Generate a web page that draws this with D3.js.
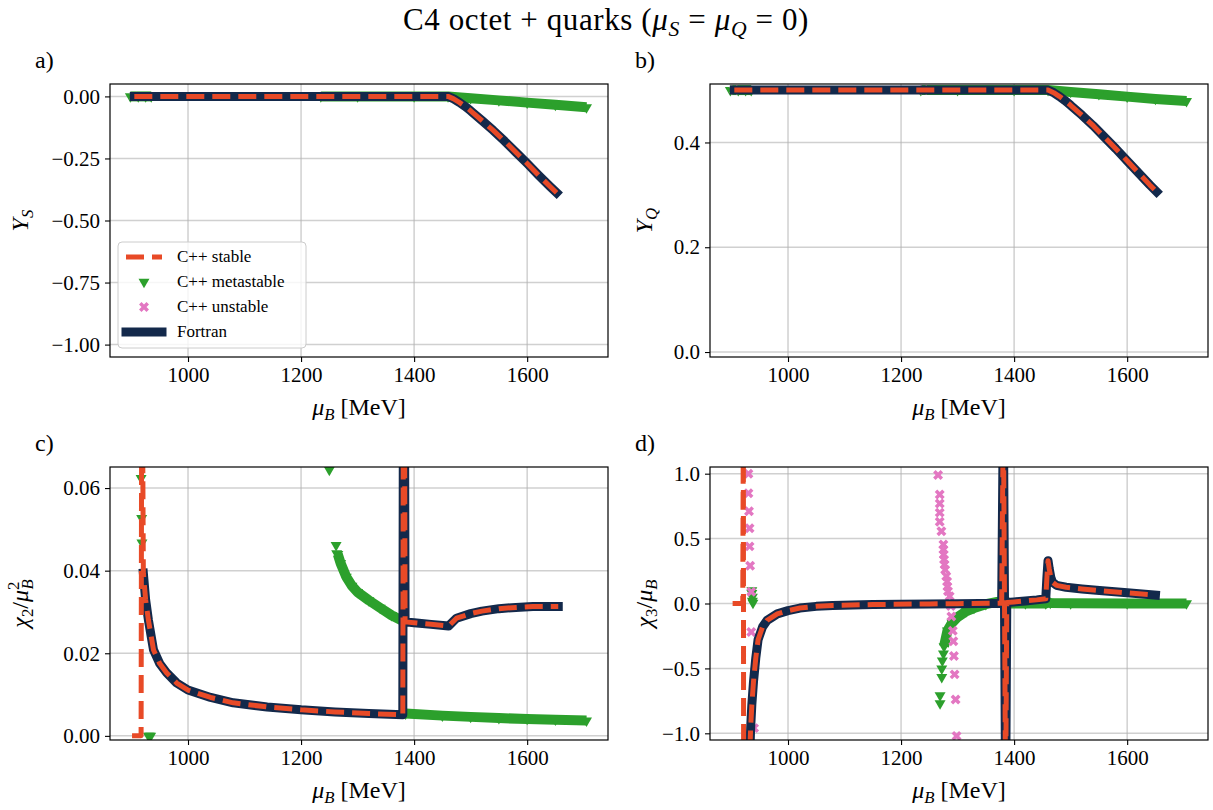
<!DOCTYPE html>
<html lang="en">
<head>
<meta charset="UTF-8"/>
<title>C4 octet + quarks</title>
<script src="https://d3js.org/d3.v7.min.js"></script>
<style>
body { margin: 0; background: #fff; }
</style>
</head>
<body>
<script>
// ---------------- data ----------------
var xTicks = [1000, 1200, 1400, 1600];

// a) Y_S
var muA = [905, 1000, 1100, 1200, 1300, 1400, 1460, 1470, 1480, 1490, 1500, 1520, 1540, 1560, 1580, 1600, 1620, 1640, 1652];
var stableA = [0, 0, 0, 0, 0, 0, 0, -0.01, -0.024, -0.04, -0.058, -0.097, -0.137, -0.18, -0.225, -0.27, -0.317, -0.362, -0.388];
var metaA1_mu = [898, 912, 925, 935];
var metaA1 = [0, 0, 0, 0];
var metaA2_mu = [1235, 1300, 1400, 1460, 1500, 1550, 1600, 1650, 1705];
var metaA2 = [0, 0, 0, 0, -0.007, -0.016, -0.025, -0.034, -0.044];
var unstA_mu = [905, 1240];
var unstA = [0, 0];

// b) Y_Q
var muB = muA;
var stableB = [0.5, 0.5, 0.5, 0.5, 0.5, 0.5, 0.5, 0.495, 0.488, 0.48, 0.471, 0.452, 0.432, 0.41, 0.388, 0.365, 0.342, 0.319, 0.306];
var metaB1_mu = [898, 912, 925, 935];
var metaB1 = [0.5, 0.5, 0.5, 0.5];
var metaB2_mu = [1235, 1300, 1400, 1460, 1500, 1550, 1600, 1650, 1705];
var metaB2 = [0.5, 0.5, 0.5, 0.5, 0.4965, 0.492, 0.4875, 0.483, 0.479];
var unstB_mu = [905, 1240];
var unstB = [0.5, 0.5];

// c) chi2 / mu_B^2
var stableC_mu = [901, 917, 918, 919.5, 921, 925, 930, 939, 950, 962, 980, 1000, 1040, 1080, 1140, 1200, 1260, 1320, 1380, 1381, 1383, 1384, 1400, 1430, 1461, 1475, 1500, 1520, 1550, 1580, 1610, 1655];
var stableC = [0, 0, 0.08, 0.08, 0.0394, 0.033, 0.028, 0.0208, 0.0175, 0.0153, 0.0128, 0.0111, 0.0093, 0.008, 0.007, 0.0063, 0.0058, 0.0054, 0.0051, 0.08, 0.08, 0.0276, 0.0274, 0.027, 0.0266, 0.0285, 0.0296, 0.0302, 0.0308, 0.0311, 0.0313, 0.0313];
var fortranC_mu = [921, 925, 930, 939, 950, 962, 980, 1000, 1040, 1080, 1140, 1200, 1260, 1320, 1380, 1381, 1383, 1384, 1400, 1430, 1461, 1475, 1500, 1520, 1550, 1580, 1610, 1655];
var fortranC = [0.0394, 0.033, 0.028, 0.0208, 0.0175, 0.0153, 0.0128, 0.0111, 0.0093, 0.008, 0.007, 0.0063, 0.0058, 0.0054, 0.0051, 0.08, 0.08, 0.0276, 0.0274, 0.027, 0.0266, 0.0285, 0.0296, 0.0302, 0.0308, 0.0311, 0.0313, 0.0313];
var metaC_mu = [917, 918, 918.5, 930, 932, 934, 1250, 1262, 1263];
var metaC = [0.0624, 0.0527, 0.0468, 0, 0, 0, 0.0644, 0.0462, 0.0442];
var metaC1_mu = [1265, 1270, 1280, 1290, 1300, 1320, 1340, 1360, 1383];
var metaC1 = [0.044, 0.0418, 0.0385, 0.0363, 0.0348, 0.0328, 0.031, 0.0292, 0.0276];
var metaC2_mu = [1385, 1450, 1500, 1550, 1600, 1650, 1705];
var metaC2 = [0.0054, 0.0049, 0.0046, 0.0043, 0.0041, 0.0039, 0.0037];

// d) chi3 / mu_B
var fortranD_mu = [932, 934, 936, 939, 943, 947, 955, 963, 981, 1000, 1021, 1050, 1079, 1150, 1250, 1300, 1378, 1381, 1385, 1387, 1400, 1420, 1440, 1456, 1458, 1460, 1462, 1465, 1468, 1475, 1492, 1520, 1551, 1600, 1650];
var fortranD = [-1.2, -0.95, -0.78, -0.6, -0.42, -0.28, -0.18, -0.13, -0.08, -0.055, -0.035, -0.022, -0.015, -0.008, -0.003, -0.001, 0.002, 1.5, -1.5, 0.008, 0.012, 0.02, 0.028, 0.036, 0.2, 0.33, 0.27, 0.2, 0.164, 0.14, 0.125, 0.112, 0.1, 0.082, 0.065];
var vacuumD_mu = [902, 920, 921, 921.5, 932];
var vacuumD = [0, 0, 1.5, -1.5, -1.5];
var metaD_mu = [936, 936, 937, 937, 938, 1269, 1269, 1272, 1272, 1273, 1275];
var metaD = [0.1, 0.08, 0.05, 0.02, 0.005, -0.708, -0.77, -0.502, -0.567, -0.44, -0.387];
var metaD1_mu = [1276, 1282, 1290, 1300, 1315, 1329, 1350, 1370, 1383];
var metaD1 = [-0.33, -0.21, -0.15, -0.105, -0.06, -0.035, -0.005, 0.012, 0.02];
var metaD2_mu = [1386, 1420, 1456, 1460, 1464, 1500, 1600, 1705];
var metaD2 = [0, 0, 0, 0.012, 0.004, 0.001, 0, 0];
var unstD1_mu = [930, 930, 931, 932, 932, 933, 935, 935, 940];
var unstD1 = [1.0, 0.85, 0.71, 0.58, 0.44, 0.29, 0.09, -0.22, -0.96];
var unstD2_mu = [1265.5, 1268.4, 1268.4, 1268.4, 1268.4, 1271.4, 1274.9, 1274.9, 1275.5, 1276, 1277, 1278, 1280, 1281.5, 1282, 1283, 1286, 1288, 1289, 1291.5, 1292.5, 1293.5, 1294.7, 1296.5, 1298.2];
var unstD2 = [0.99, 0.84, 0.77, 0.70, 0.63, 0.556, 0.454, 0.415, 0.377, 0.338, 0.30, 0.26, 0.21, 0.17, 0.13, 0.095, 0.056, -0.02, -0.1, -0.21, -0.29, -0.405, -0.546, -0.74, -1.02];

// ---------------- style ----------------
var FONT = "'Liberation Serif', 'DejaVu Serif', serif";
var NAVY = "#13294B", ORANGE = "#E84A27", GREEN = "#2ca02c", PINK = "#e377c2";
var xDomain = [862, 1743];

var svg = d3.select("body").append("svg")
    .attr("width", 1213).attr("height", 810)
    .attr("font-family", FONT);

// write text made of parts: {t, it, sub, sup, dx, dy}
function mathText(sel, parts, fs) {
    parts.forEach(function (p) {
        var ts = sel.append("tspan").text(p.t);
        if (p.it) ts.attr("font-style", "italic");
        if (p.sub || p.sup) ts.attr("font-size", fs * 0.7);
        if (p.dy) ts.attr("dy", p.dy);
        if (p.dx) ts.attr("dx", p.dx);
    });
    return sel;
}

function zip(a, b) { return a.map(function (v, i) { return [v, b[i]]; }); }

// title
mathText(svg.append("text").attr("x", 606).attr("y", 30).attr("text-anchor", "middle")
        .attr("font-size", 31).attr("letter-spacing", 0.6),
    [{t: "C4 octet + quarks ("}, {t: "μ", it: 1}, {t: "S", it: 1, sub: 1, dy: 6},
     {t: " = ", dy: -6}, {t: "μ", it: 1}, {t: "Q", it: 1, sub: 1, dy: 6}, {t: " = 0)", dy: -6}], 31);

function panel(p) {
    var g = svg.append("g").attr("transform", "translate(" + p.left + "," + p.top + ")");
    var x = d3.scaleLinear().domain(xDomain).range([0, p.w]);
    var y = d3.scaleLinear().domain(p.yDomain).range([p.h, 0]);

    // grid
    g.selectAll("line.gx").data(xTicks).enter().append("line")
        .attr("x1", function (d) { return x(d); }).attr("x2", function (d) { return x(d); })
        .attr("y1", 0).attr("y2", p.h)
        .attr("stroke", "#b0b0b0").attr("stroke-opacity", 0.6).attr("stroke-width", 1.5);
    g.selectAll("line.gy").data(p.yTicks).enter().append("line")
        .attr("y1", function (d) { return y(d); }).attr("y2", function (d) { return y(d); })
        .attr("x1", 0).attr("x2", p.w)
        .attr("stroke", "#b0b0b0").attr("stroke-opacity", 0.6).attr("stroke-width", 1.5);

    var clipId = "clip_" + p.name;
    svg.append("clipPath").attr("id", clipId).append("rect").attr("width", p.w).attr("height", p.h);
    var plot = g.append("g").attr("clip-path", "url(#" + clipId + ")");

    var line = d3.line().x(function (d) { return x(d[0]); }).y(function (d) { return y(d[1]); });
    var tri = d3.symbol().type(d3.symbolTriangle).size(52);
    var cross = d3.symbol().type(d3.symbolCross).size(62);

    // metastable (band + markers)
    p.metaBands.forEach(function (b) {
        plot.append("path").attr("d", line(b)).attr("fill", "none")
            .attr("stroke", GREEN).attr("stroke-width", 10).attr("stroke-linejoin", "round");
    });
    var metaPts = p.metaPts.concat.apply(p.metaPts, p.metaBands);
    plot.selectAll("path.meta").data(metaPts).enter().append("path")
        .attr("d", tri).attr("fill", GREEN)
        .attr("transform", function (d) { return "translate(" + x(d[0]) + "," + y(d[1]) + ") rotate(180)"; });

    // unstable
    plot.selectAll("path.unst").data(p.unst).enter().append("path")
        .attr("d", cross).attr("fill", PINK)
        .attr("transform", function (d) { return "translate(" + x(d[0]) + "," + y(d[1]) + ") rotate(45)"; });

    // fortran
    plot.append("path").attr("d", line(p.fortran)).attr("fill", "none")
        .attr("stroke", NAVY).attr("stroke-width", 9)
        .attr("stroke-linejoin", "round").attr("stroke-linecap", "square");
    // C++ stable
    p.stable.forEach(function (s) {
        plot.append("path").attr("d", line(s)).attr("fill", "none")
            .attr("stroke", ORANGE).attr("stroke-width", 5)
            .attr("stroke-dasharray", "18,8").attr("stroke-linejoin", "round");
    });

    // axes
    var ax = g.append("g").attr("transform", "translate(0," + p.h + ")")
        .call(d3.axisBottom(x).tickValues(xTicks).tickSize(5).tickPadding(5).tickFormat(d3.format("d")));
    var ay = g.append("g")
        .call(d3.axisLeft(y).tickValues(p.yTicks).tickSize(5).tickPadding(5).tickFormat(d3.format(p.fmt)));
    [ax, ay].forEach(function (a) {
        a.attr("font-family", FONT).attr("font-size", 21);
        a.select(".domain").remove();
        a.selectAll("line").attr("stroke", "#000").attr("stroke-width", 1.1);
    });
    g.append("rect").attr("width", p.w).attr("height", p.h)
        .attr("fill", "none").attr("stroke", "#000").attr("stroke-width", 1.2);

    // labels
    svg.append("text").attr("x", p.left - 75).attr("y", p.top - 16).attr("font-size", 24).text(p.letter);
    mathText(svg.append("text").attr("x", p.left + p.w / 2).attr("y", p.top + p.h + 58)
        .attr("text-anchor", "middle").attr("font-size", 24),
        [{t: "μ", it: 1}, {t: "B", it: 1, sub: 1, dy: 5}, {t: " [MeV]", dy: -5}], 24);
    mathText(svg.append("text")
        .attr("transform", "translate(" + (p.left + p.ylabX) + "," + (p.top + p.h / 2) + ") rotate(-90)")
        .attr("text-anchor", "middle").attr("font-size", 24), p.ylabel, 24);
    return g;
}

panel({name: "a", left: 110, top: 84, w: 498, h: 273, letter: "a)",
    yDomain: [-1.05, 0.05], yTicks: [0, -0.25, -0.5, -0.75, -1], fmt: ".2f", ylabX: -82,
    ylabel: [{t: "Y", it: 1}, {t: "S", it: 1, sub: 1, dy: 5}],
    stable: [zip(muA, stableA)], fortran: zip(muA, stableA),
    metaBands: [zip(metaA1_mu, metaA1), zip(metaA2_mu, metaA2)], metaPts: [],
    unst: zip(unstA_mu, unstA)});

panel({name: "b", left: 710, top: 84, w: 498, h: 273, letter: "b)",
    yDomain: [-0.0095, 0.5116], yTicks: [0, 0.2, 0.4], fmt: ".1f", ylabX: -58,
    ylabel: [{t: "Y", it: 1}, {t: "Q", it: 1, sub: 1, dy: 5}],
    stable: [zip(muB, stableB)], fortran: zip(muB, stableB),
    metaBands: [zip(metaB1_mu, metaB1), zip(metaB2_mu, metaB2)], metaPts: [],
    unst: zip(unstB_mu, unstB)});

panel({name: "c", left: 110, top: 467, w: 498, h: 273, letter: "c)",
    yDomain: [-0.001, 0.0651], yTicks: [0, 0.02, 0.04, 0.06], fmt: ".2f", ylabX: -82,
    ylabel: [{t: "χ", it: 1}, {t: "2", sub: 1, dy: 5}, {t: "/", dy: -5}, {t: "μ", it: 1},
             {t: "2", sup: 1, dy: -9}, {t: "B", it: 1, sub: 1, dx: -8, dy: 14}],
    stable: [zip(stableC_mu, stableC)], fortran: zip(fortranC_mu, fortranC),
    metaBands: [zip(metaC1_mu, metaC1), zip(metaC2_mu, metaC2)], metaPts: zip(metaC_mu, metaC),
    unst: []});

panel({name: "d", left: 710, top: 467, w: 498, h: 273, letter: "d)",
    yDomain: [-1.0515, 1.0515], yTicks: [1, 0.5, 0, -0.5, -1], fmt: ".1f", ylabX: -58,
    ylabel: [{t: "χ", it: 1}, {t: "3", sub: 1, dy: 5}, {t: "/", dy: -5}, {t: "μ", it: 1},
             {t: "B", it: 1, sub: 1, dy: 5}],
    stable: [zip(vacuumD_mu, vacuumD).concat(zip(fortranD_mu, fortranD))], fortran: zip(fortranD_mu, fortranD),
    metaBands: [zip(metaD1_mu, metaD1), zip(metaD2_mu, metaD2)], metaPts: zip(metaD_mu, metaD),
    unst: zip(unstD1_mu, unstD1).concat(zip(unstD2_mu, unstD2))});

// legend (panel a)
var lg = svg.append("g").attr("transform", "translate(118,242)");
lg.append("rect").attr("width", 188).attr("height", 106).attr("rx", 4)
    .attr("fill", "#fff").attr("fill-opacity", 0.8).attr("stroke", "#cccccc").attr("stroke-width", 1);
var items = ["C++ stable", "C++ metastable", "C++ unstable", "Fortran"];
items.forEach(function (name, i) {
    var cy = 15 + i * 25;
    if (i === 0) lg.append("line").attr("x1", 8).attr("x2", 44).attr("y1", cy).attr("y2", cy)
        .attr("stroke", ORANGE).attr("stroke-width", 5).attr("stroke-dasharray", "18,8");
    if (i === 1) lg.append("path").attr("d", d3.symbol().type(d3.symbolTriangle).size(52))
        .attr("fill", GREEN).attr("transform", "translate(26," + cy + ") rotate(180)");
    if (i === 2) lg.append("path").attr("d", d3.symbol().type(d3.symbolCross).size(62))
        .attr("fill", PINK).attr("transform", "translate(26," + cy + ") rotate(45)");
    if (i === 3) lg.append("line").attr("x1", 8).attr("x2", 44).attr("y1", cy).attr("y2", cy)
        .attr("stroke", NAVY).attr("stroke-width", 9).attr("stroke-linecap", "square");
    lg.append("text").attr("x", 59).attr("y", cy + 5).attr("font-size", 17).text(name);
});
</script>
</body>
</html>
